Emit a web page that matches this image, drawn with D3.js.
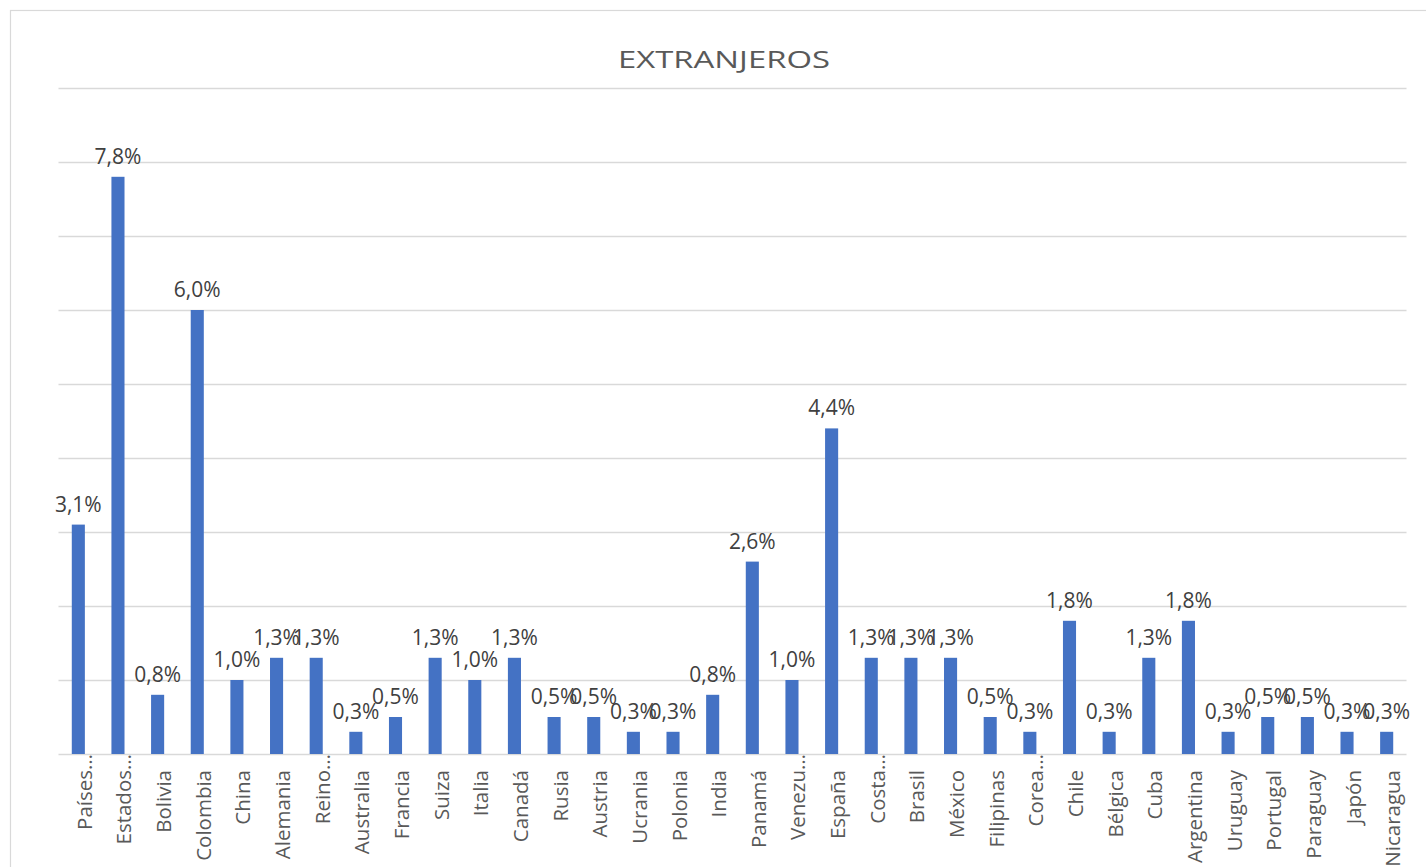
<!DOCTYPE html>
<html>
<head>
<meta charset="utf-8">
<script src="https://cdn.jsdelivr.net/npm/d3@7"></script>
<style>
  html, body { margin: 0; padding: 0; background: #ffffff; }
  svg { display: block; font-family: "Open Sans", "Noto Sans", sans-serif; }
</style>
</head>
<body>
<script>
const title = "EXTRANJEROS";
const categories = ["Países…", "Estados…", "Bolivia", "Colombia", "China", "Alemania", "Reino…", "Australia", "Francia", "Suiza", "Italia", "Canadá", "Rusia", "Austria", "Ucrania", "Polonia", "India", "Panamá", "Venezu…", "España", "Costa…", "Brasil", "México", "Filipinas", "Corea…", "Chile", "Bélgica", "Cuba", "Argentina", "Uruguay", "Portugal", "Paraguay", "Japón", "Nicaragua"];
const values = [3.1, 7.8, 0.8, 6.0, 1.0, 1.3, 1.3, 0.3, 0.5, 1.3, 1.0, 1.3, 0.5, 0.5, 0.3, 0.3, 0.8, 2.6, 1.0, 4.4, 1.3, 1.3, 1.3, 0.5, 0.3, 1.8, 0.3, 1.3, 1.8, 0.3, 0.5, 0.5, 0.3, 0.3];
const yMax = 9;
const yTickCount = 9;

const W = 1426, H = 867;
const plot = { left: 58.5, right: 1406.5, top: 88, bottom: 754 };

const svg = d3.select("body").append("svg").attr("width", W).attr("height", H);
svg.append("rect").attr("width", W).attr("height", H).attr("fill", "#fff");

// chart border (only left & top visible)
svg.append("rect").attr("x", 10.5).attr("y", 10.5).attr("width", W + 20).attr("height", H + 20)
  .attr("fill", "none").attr("stroke", "#d9d9d9").attr("stroke-width", 1.2);

const x = d3.scaleBand().domain(categories).range([plot.left, plot.right])
  .paddingInner(0.67).paddingOuter(0.335);
const y = d3.scaleLinear().domain([0, yMax]).range([plot.bottom, plot.top]);

// gridlines
const grid = svg.append("g").attr("transform", `translate(${plot.left},0)`)
  .call(d3.axisLeft(y).ticks(yTickCount).tickSize(-(plot.right - plot.left)).tickFormat(""));
grid.select(".domain").remove();
grid.selectAll("line").attr("stroke", "#d9d9d9").attr("stroke-width", 1.3);

// title
svg.append("text").attr("x", 724).attr("y", 68).attr("text-anchor", "middle")
  .attr("font-size", 24.5).attr("fill", "#595959")
  .attr("textLength", 212).attr("lengthAdjust", "spacingAndGlyphs")
  .text(title);

// bars
const data = categories.map((c, i) => ({ c, v: values[i] }));
svg.append("g").selectAll("rect").data(data).join("rect")
  .attr("x", d => x(d.c)).attr("width", x.bandwidth())
  .attr("y", d => y(d.v)).attr("height", d => y(0) - y(d.v))
  .attr("fill", "#4472c4");

// data labels
const fmt = v => v.toFixed(1).replace(".", ",") + "%";
svg.append("g").selectAll("text").data(data).join("text")
  .attr("x", d => x(d.c) + x.bandwidth() / 2)
  .attr("y", d => y(d.v) - 13)
  .attr("text-anchor", "middle").attr("font-size", 21).attr("fill", "#404040")
  .text(d => fmt(d.v));

// x axis
const xAxis = svg.append("g").attr("transform", `translate(0,${plot.bottom})`)
  .call(d3.axisBottom(x).tickSize(0).tickFormat(d => d.replace("…", "")));
xAxis.select(".domain").remove();
xAxis.selectAll("text")
  .attr("transform", "rotate(-90)")
  .attr("x", -16).attr("y", 0).attr("dy", "13.5px")
  .attr("text-anchor", "end").attr("font-size", 20.5)
  .attr("font-family", "Open Sans, Noto Sans, sans-serif")
  .attr("fill", "#595959");
xAxis.selectAll(".tick").filter(d => d.endsWith("…"))
  .append("text")
  .attr("transform", "rotate(-90)")
  .attr("x", -16).attr("y", 0).attr("dy", "13.5px")
  .attr("text-anchor", "start").attr("font-size", 20.5)
  .attr("font-family", "Open Sans, Noto Sans, sans-serif")
  .attr("fill", "#595959")
  .text("…");
</script>
</body>
</html>
